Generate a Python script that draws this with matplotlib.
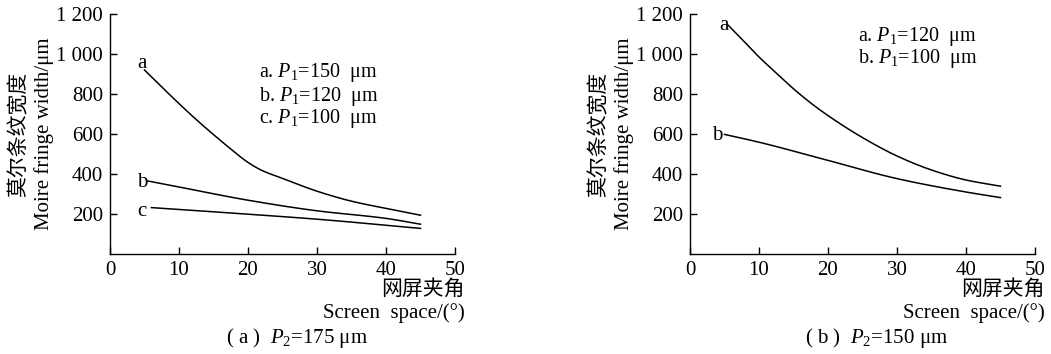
import matplotlib
matplotlib.use("Agg")
import matplotlib.pyplot as plt
import numpy as np

plt.rcParams['font.family'] = ['Liberation Serif', 'Noto Sans CJK SC']
plt.rcParams['mathtext.fontset'] = 'custom'
plt.rcParams['mathtext.rm'] = 'Liberation Serif'
plt.rcParams['mathtext.it'] = 'Liberation Serif:italic'

# Panel (a): P2 = 175 um
a_x = [5, 7.5, 10, 12.5, 15, 17.5, 20, 22, 25, 30, 35, 40, 45]
a_a = [920, 835, 752, 672, 597, 525, 458, 418, 378, 314, 264, 228, 194]
a_bx = [5.5, 10, 20, 30, 40, 45]
a_b = [365, 335, 269, 216, 178, 149]
a_cx = [6, 20, 30, 45]
a_c = [232, 199, 174, 128]

# Panel (b): P2 = 150 um
b_x = [5.5, 7.5, 10, 12.5, 15, 17.5, 20, 25, 30, 35, 40, 45]
b_a = [1145, 1075, 985, 905, 826, 755, 692, 582, 490, 420, 370, 339]
b_bx = [5, 10, 20, 30, 40, 45]
b_b = [598, 559, 468, 377, 310, 282]

yticks = [200, 400, 600, 800, 1000, 1200]
yticklabels = ['200', '400', '600', '800', '1 000', '1 200']
xticks = [0, 10, 20, 30, 40, 50]

fig = plt.figure(figsize=(10.51, 3.54), dpi=100)
W, H = 1051, 354

def make_ax(x0, x1):
    ax = fig.add_axes([x0 / W, 1 - 254 / H, (x1 - x0) / W, 240 / H])
    ax.set_xlim(0, 50)
    ax.set_ylim(0, 1200)
    for s in ['top', 'right']:
        ax.spines[s].set_visible(False)
    ax.spines['left'].set_linewidth(1.0)
    ax.spines['bottom'].set_linewidth(1.0)
    ax.set_xticks(xticks)
    ax.set_yticks(yticks)
    ax.set_yticklabels(yticklabels)
    ax.tick_params(direction='in', length=5, width=1, labelsize=15, pad=5)
    ax.set_ylabel('莫尔条纹宽度\nMoire fringe width/μm', fontsize=15, linespacing=1.25, labelpad=2)
    return ax

def smooth_plot(ax, xs, ys):
    xs = np.asarray(xs, float); ys = np.asarray(ys, float)
    # monotone cubic (PCHIP-like) interpolation for a smooth drawn curve
    n = len(xs)
    h = np.diff(xs); d = np.diff(ys) / h
    m = np.zeros(n)
    m[0] = d[0]; m[-1] = d[-1]
    for i in range(1, n - 1):
        if d[i - 1] * d[i] > 0:
            w1 = 2 * h[i] + h[i - 1]; w2 = h[i] + 2 * h[i - 1]
            m[i] = (w1 + w2) / (w1 / d[i - 1] + w2 / d[i])
    xx, yy = [], []
    for i in range(n - 1):
        t = np.linspace(0, 1, 20, endpoint=(i == n - 2))
        h00 = 2 * t**3 - 3 * t**2 + 1; h10 = t**3 - 2 * t**2 + t
        h01 = -2 * t**3 + 3 * t**2; h11 = t**3 - t**2
        xx.extend(xs[i] + t * h[i])
        yy.extend(h00 * ys[i] + h10 * h[i] * m[i] + h01 * ys[i + 1] + h11 * h[i] * m[i + 1])
    ax.plot(xx, yy, color='black', lw=1.1)

ax1 = make_ax(110, 455)
smooth_plot(ax1, a_x, a_a)
smooth_plot(ax1, a_bx, a_b)
smooth_plot(ax1, a_cx, a_c)
ax1.text(4.7, 952, 'a', fontsize=15, ha='center', va='center')
ax1.text(4.7, 357, 'b', fontsize=15, ha='center', va='center')
ax1.text(4.6, 213, 'c', fontsize=15, ha='center', va='center')
ax1.text(21.6, 905, 'a. $P_1$=150  μm', fontsize=14.5, va='center')
ax1.text(21.6, 790, 'b. $P_1$=120  μm', fontsize=14.5, va='center')
ax1.text(21.6, 680, 'c. $P_1$=100  μm', fontsize=14.5, va='center')

ax2 = make_ax(690, 1035)
smooth_plot(ax2, b_x, b_a)
smooth_plot(ax2, b_bx, b_b)
ax2.text(4.9, 1142, 'a', fontsize=15, ha='center', va='center')
ax2.text(3.9, 591, 'b', fontsize=15, ha='center', va='center')
ax2.text(24.3, 1088, 'a. $P_1$=120  μm', fontsize=14.5, va='center')
ax2.text(24.3, 978, 'b. $P_1$=100  μm', fontsize=14.5, va='center')

for xr, cx, cap in [(465, 297, '( a )  $P_2$=175 μm'), (1045, 877, '( b )  $P_2$=150 μm')]:
    fig.text(xr / W, 1 - 290 / H, '网屏夹角', fontsize=15, ha='right', va='center')
    fig.text(xr / W, 1 - 313 / H, 'Screen  space/(°)', fontsize=15, ha='right', va='center')
    fig.text(cx / W, 1 - 338 / H, cap, fontsize=15, ha='center', va='center')

fig.savefig('out.png', dpi=100)
